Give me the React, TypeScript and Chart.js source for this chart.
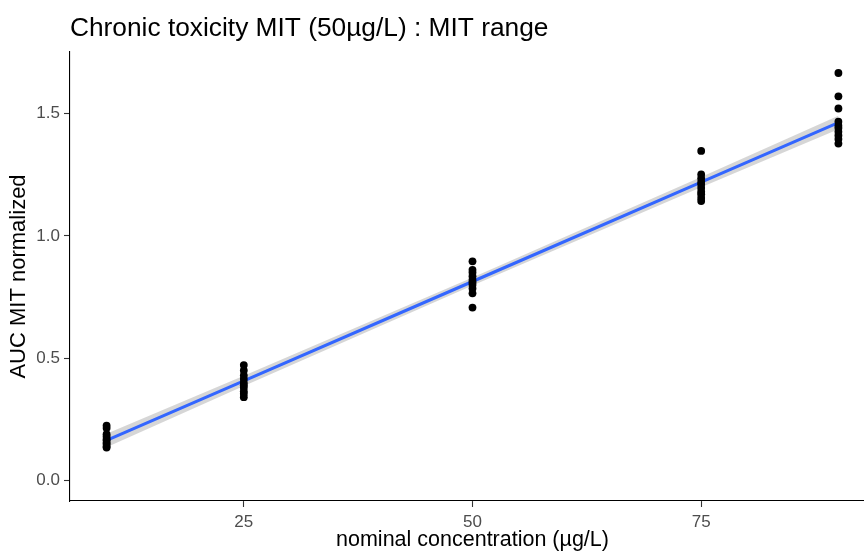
import { useEffect, useRef } from "react";
import { Chart, registerables } from "chart.js";

Chart.register(...registerables);

const TITLE = "Chronic toxicity MIT (50µg/L) : MIT range";
const X_TITLE = "nominal concentration (µg/L)";
const Y_TITLE = "AUC MIT normalized";

// nominal concentrations (µg/L)
const concentrations = [10, 25, 50, 75, 90];
// normalized AUC replicates per concentration
const auc10 = [0.225, 0.215, 0.19, 0.18, 0.17, 0.165, 0.155, 0.15, 0.14, 0.135];
const auc25 = [0.472, 0.45, 0.43, 0.415, 0.4, 0.39, 0.38, 0.365, 0.355, 0.341];
const auc50 = [0.896, 0.861, 0.85, 0.835, 0.82, 0.81, 0.8, 0.785, 0.765, 0.707];
const auc75 = [1.347, 1.251, 1.235, 1.22, 1.21, 1.195, 1.18, 1.17, 1.155, 1.142];
const auc90 = [1.665, 1.57, 1.52, 1.466, 1.45, 1.44, 1.425, 1.41, 1.395, 1.377];

const xTicks = [25, 50, 75];
const yTicks = [0, 0.5, 1.0, 1.5];
const xLimits = [6, 94];
const yLimits = [-0.083, 1.751];

// Student t quantile (0.975) for df = 48, used by the 95% confidence band
const T_CRIT = 2.0106;

const FONT = "'Liberation Sans', Arial, sans-serif";

function buildSeries() {
  const groups = [auc10, auc25, auc50, auc75, auc90];
  const pts = groups.flatMap((g, i) => g.map((v) => ({ x: concentrations[i], y: v })));
  const n = pts.length;
  const mx = pts.reduce((s, p) => s + p.x, 0) / n;
  const my = pts.reduce((s, p) => s + p.y, 0) / n;
  let sxx = 0;
  let sxy = 0;
  pts.forEach((p) => {
    sxx += (p.x - mx) * (p.x - mx);
    sxy += (p.x - mx) * (p.y - my);
  });
  const b = sxy / sxx;
  const a = my - b * mx;
  let sse = 0;
  pts.forEach((p) => {
    const r = p.y - (a + b * p.x);
    sse += r * r;
  });
  const s = Math.sqrt(sse / (n - 2));
  const fit = concentrations.map((x) => ({ x, y: a + b * x }));
  const half = (x: number) => T_CRIT * s * Math.sqrt(1 / n + ((x - mx) * (x - mx)) / sxx);
  const upper = concentrations.map((x) => ({ x, y: a + b * x + half(x) }));
  const lower = concentrations.map((x) => ({ x, y: a + b * x - half(x) }));
  return { pts, fit, upper, lower };
}

export default function App() {
  const ref = useRef<HTMLCanvasElement>(null);

  useEffect(() => {
    if (!ref.current) return;
    const { pts, fit, upper, lower } = buildSeries();
    const chart = new Chart(ref.current, {
      type: "scatter",
      data: {
        datasets: [
          {
            data: pts,
            backgroundColor: "#000000",
            borderColor: "#000000",
            pointRadius: 3.9,
            pointBorderWidth: 0,
            order: 0,
          },
          {
            data: fit,
            showLine: true,
            borderColor: "#3366FF",
            borderWidth: 3,
            pointRadius: 0,
            fill: false,
            order: 1,
          },
          {
            data: upper,
            showLine: true,
            borderWidth: 0,
            borderColor: "rgba(0,0,0,0)",
            backgroundColor: "rgba(153,153,153,0.4)",
            pointRadius: 0,
            fill: 3,
            order: 2,
          },
          {
            data: lower,
            showLine: true,
            borderWidth: 0,
            borderColor: "rgba(0,0,0,0)",
            pointRadius: 0,
            fill: false,
            order: 3,
          },
        ],
      },
      options: {
        responsive: false,
        animation: false,
        devicePixelRatio: 1,
        layout: { padding: 0 },
        plugins: {
          legend: { display: false },
          tooltip: { enabled: false },
          title: {
            display: true,
            text: TITLE,
            align: "start",
            fullSize: false,
            color: "#000000",
            font: { family: FONT, size: 26.3, weight: "normal" },
            padding: { top: 12.8, bottom: 7.6 },
          },
        },
        scales: {
          x: {
            type: "linear",
            min: xLimits[0],
            max: xLimits[1],
            afterFit: (s: any) => {
              s.height = 53;
            },
            afterBuildTicks: (s: any) => {
              s.ticks = xTicks.map((v) => ({ value: v }));
            },
            grid: {
              display: true,
              drawOnChartArea: false,
              drawTicks: true,
              tickLength: 6,
              tickColor: "#333333",
              tickWidth: 1.1,
            },
            border: { display: true, color: "#000000", width: 1.1 },
            ticks: {
              color: "#4D4D4D",
              padding: 5,
              maxRotation: 0,
              font: { family: FONT, size: 17 },
              callback: (v: any) => String(v),
            },
            title: {
              display: true,
              text: X_TITLE,
              color: "#000000",
              font: { family: FONT, size: 21.5 },
              padding: { top: 0, bottom: 0.6 },
            },
          },
          y: {
            type: "linear",
            min: yLimits[0],
            max: yLimits[1],
            afterFit: (s: any) => {
              s.width = 70;
            },
            afterBuildTicks: (s: any) => {
              s.ticks = yTicks.map((v) => ({ value: v }));
            },
            grid: {
              display: true,
              drawOnChartArea: false,
              drawTicks: true,
              tickLength: 6,
              tickColor: "#333333",
              tickWidth: 1.1,
            },
            border: { display: true, color: "#000000", width: 1.1 },
            ticks: {
              color: "#4D4D4D",
              padding: 4,
              font: { family: FONT, size: 17 },
              callback: (v: any) => Number(v).toFixed(1),
            },
            title: {
              display: true,
              text: Y_TITLE,
              color: "#000000",
              font: { family: FONT, size: 22 },
              padding: { top: 5.3, bottom: 0 },
            },
          },
        },
      },
    });
    return () => chart.destroy();
  }, []);

  return (
    <div style={{ position: "fixed", left: 0, top: 0, width: 879, height: 554, background: "#ffffff" }}>
      <canvas ref={ref} width={879} height={554} />
    </div>
  );
}
